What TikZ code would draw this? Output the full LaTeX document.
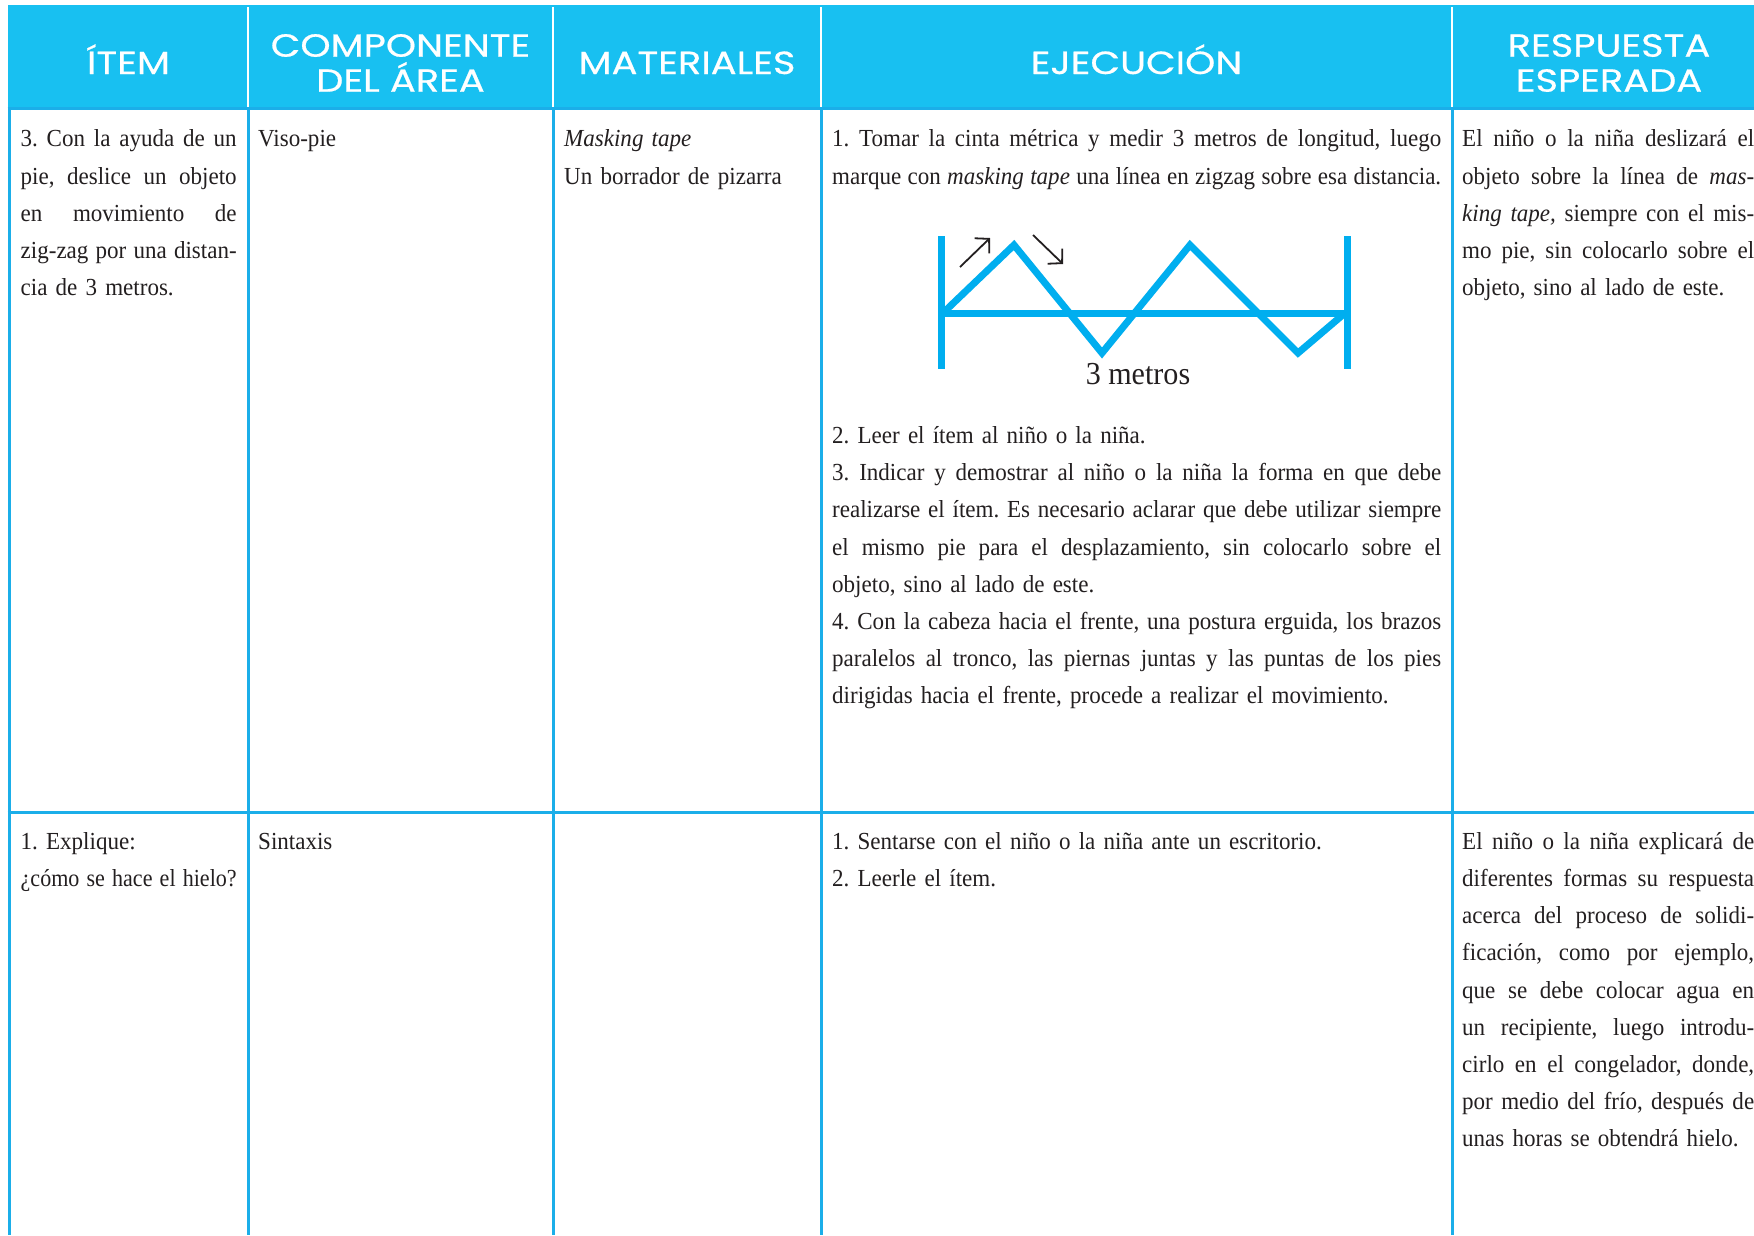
\documentclass[tikz,border=0pt]{standalone}
\usepackage{fontspec}
\setmainfont{Liberation Serif}[FakeStretch=0.94]
\newfontfamily\narrowserif{Liberation Serif}[FakeStretch=0.9]
\newfontfamily\hdrfont{Poppins}[FakeStretch=1.2, FakeBold=0.6]
\usetikzlibrary{arrows.meta}
\definecolor{hdrblue}{RGB}{24,192,241}
\definecolor{rulecol}{RGB}{27,174,233}
\definecolor{tapecol}{RGB}{0,174,239}
\definecolor{ink}{RGB}{35,31,32}
\newcommand\jline[2]{\leavevmode\hbox to #1{\spaceskip=5.6pt plus 1fil minus 2.4pt\relax #2}}
\newcommand\JA[1]{\jline{216pt}{#1}}
\newcommand\JD[1]{\jline{609pt}{#1}}
\newcommand\JE[1]{\jline{292pt}{#1}}
\newcommand\cellstrut{\noindent\rule{0pt}{20pt}}
\newcommand\bodyfont{\fontsize{24.5}{37.2}\selectfont\frenchspacing\spaceskip=5.6pt plus 3pt minus 2.4pt\relax}
\tikzset{
  cell/.style={anchor=north west, inner sep=0pt, align=left, font=\bodyfont, text=ink},
  hdr/.style={anchor=base, inner sep=0pt, font=\hdrfont\fontsize{32}{35}\selectfont, text=white},
  hsep/.style={draw=white, line width=2pt},
  grid/.style={draw=rulecol, line width=3pt},
  tape/.style={draw=tapecol, line width=7pt},
  dirarrow/.style={draw=ink, line width=1.8pt, -{Straight Barb[length=10pt,width=21pt]}}
}
\begin{document}
\begin{tikzpicture}[x=1pt,y=-1pt]
\useasboundingbox (0,0) rectangle (1754,1235);
\fill[white] (0,0) rectangle (1754,1235);
% header
\fill[hdrblue] (8,5) rectangle (1754,108);
\foreach \x in {248,553,821,1452} \draw[hsep] (\x,7) -- (\x,108);
% grid
\foreach \x in {9,248,553,821,1452} \draw[grid] (\x,108) -- (\x,1235);
\draw[grid] (7.5,108) -- (1754,108);
\draw[grid] (7.5,812) -- (1754,812);
% header text
\node[hdr] (h1) at (128.5,74) {ÍTEM};
\node[hdr] (h2a) at (400.5,56.7) {COMPONENTE};
\node[hdr] (h2b) at (400.5,91.7) {DEL ÁREA};
\node[hdr] (h3) at (687,74) {MATERIALES};
\node[hdr] (h4) at (1136.5,74) {EJECUCIÓN};
\node[hdr] (h5a) at (1609,56.7) {RESPUESTA};
\node[hdr] (h5b) at (1609,91.7) {ESPERADA};
% row 1
\node[cell, text width=218pt] (r1c1) at (20.5,126.7) {\cellstrut\JA{3. Con la ayuda de un}\\
\JA{pie, deslice un objeto}\\
\JA{en movimiento de}\\
\JA{zig-zag por una distan-}\\
cia de 3 metros.};
\node[cell, text width=280pt] (r1c2) at (258,126.7) {\cellstrut Viso-pie};
\node[cell, text width=260pt] (r1c3) at (564,126.7) {\cellstrut\textit{Masking tape}\\
Un borrador de pizarra};
\node[cell, text width=611pt] (r1c4a) at (832,126.7) {\cellstrut\JD{1. Tomar la cinta métrica y medir 3 metros de longitud, luego}\\
\JD{marque con \textit{masking tape} una línea en zigzag sobre esa distancia.}};
\node[cell, text width=611pt] (r1c4b) at (832,423.3) {\cellstrut 2. Leer el ítem al niño o la niña.\\
\JD{3. Indicar y demostrar al niño o la niña la forma en que debe}\\
\JD{realizarse el ítem. Es necesario aclarar que debe utilizar siempre}\\
\JD{el mismo pie para el desplazamiento, sin colocarlo sobre el}\\
objeto, sino al lado de este.\\
\JD{4. Con la cabeza hacia el frente, una postura erguida, los brazos}\\
\JD{paralelos al tronco, las piernas juntas y las puntas de los pies}\\
dirigidas hacia el frente, procede a realizar el movimiento.};
\node[cell, text width=294pt] (r1c5) at (1462,126.7) {\cellstrut\JE{El niño o la niña deslizará el}\\
\JE{objeto sobre la línea de \textit{mas-}}\\
\JE{\textit{king tape,} siempre con el mis-}\\
\JE{mo pie, sin colocarlo sobre el}\\
objeto, sino al lado de este.};
% diagram
\draw[tape] (941,236) -- (941,369);
\draw[tape] (1347,236) -- (1347,369);
\draw[tape] (941,313) -- (1347,313);
\draw[tape, line join=miter] (943,313) -- (1014,245) -- (1102,353) -- (1190,245) -- (1298,353) -- (1345,313);
\coordinate (a1s) at (960,267);
\coordinate (a1e) at (990,238);
\coordinate (a2s) at (1033,235);
\coordinate (a2e) at (1063,264);
\draw[dirarrow] (a1s) -- (a1e);
\draw[dirarrow] (a2s) -- (a2e);
\node[anchor=base, inner sep=0pt, text=ink, font=\fontsize{32}{36}\selectfont] (lbl) at (1138,384) {3 metros};
% row 2
\node[cell, text width=230pt] (r2c1) at (20.5,829) {\cellstrut 1. Explique:\\
\JA{\narrowserif ¿cómo se hace el hielo?}};
\node[cell, text width=280pt] (r2c2) at (258,829) {\cellstrut Sintaxis};
\node[cell, text width=611pt] (r2c4) at (832,829) {\cellstrut 1. Sentarse con el niño o la niña ante un escritorio.\\
2. Leerle el ítem.};
\node[cell, text width=294pt] (r2c5) at (1462,829) {\cellstrut\JE{El niño o la niña explicará de}\\
\JE{diferentes formas su respuesta}\\
\JE{acerca del proceso de solidi-}\\
\JE{ficación, como por ejemplo,}\\
\JE{que se debe colocar agua en}\\
\JE{un recipiente, luego introdu-}\\
\JE{cirlo en el congelador, donde,}\\
\JE{por medio del frío, después de}\\
unas horas se obtendrá hielo.};
\end{tikzpicture}
\end{document}
